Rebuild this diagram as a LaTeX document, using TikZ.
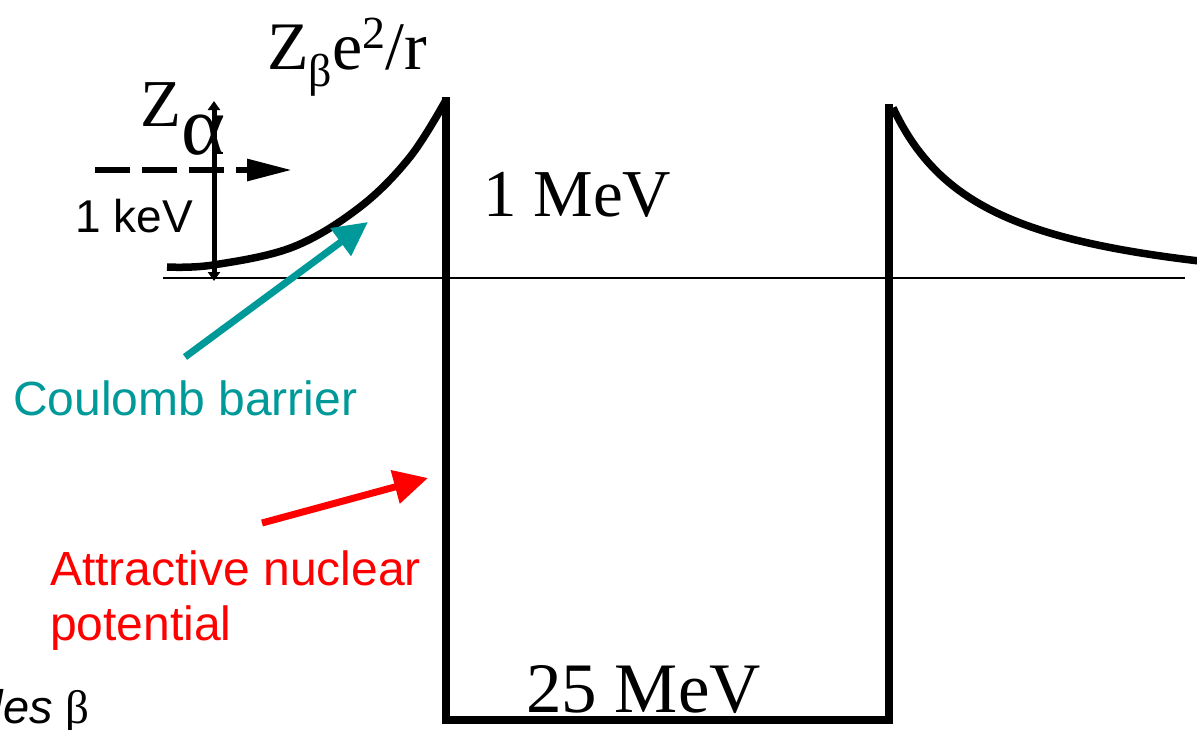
\documentclass[tikz,border=0pt]{standalone}
\usepackage{fontspec}
\setmainfont{Liberation Serif}
\newfontfamily\arialf{Liberation Sans}
\usetikzlibrary{arrows.meta}
\definecolor{teal2}{RGB}{0,153,153}
\definecolor{red2}{RGB}{255,0,0}
\tikzset{
  thick8/.style={line width=8pt, line join=miter},
  bigarrow/.style={line width=7pt, -{Triangle[length=34pt,width=33pt]}},
  lbl/.style={inner sep=0pt, anchor=base west},
  sanslbl/.style={lbl, font=\arialf\fontsize{48}{55}\selectfont},
}
\begin{document}
\begin{tikzpicture}[x=1pt,y=-1pt]
\useasboundingbox (0,0) rectangle (1197,729);
% axis
\coordinate (axL) at (163,278);
\coordinate (axR) at (1185,278);
\draw[line width=2.5pt] (axL) -- (axR);
% well
\coordinate (wTL) at (446,97);
\coordinate (wBL) at (446,720);
\coordinate (wBR) at (889,720);
\coordinate (wTR) at (889,104);
\draw[thick8] (wTL) -- (wBL) -- (wBR) -- (wTR);
% coulomb curves
\draw[line width=7.5pt] plot[smooth, tension=0.6] coordinates {(167,267) (213,265) (293,247) (360,207) (410,157) (446,100)};
\draw[line width=7.5pt] plot[domain=0.94:4.03, samples=80] ({799+100*\x},{308-188.16/\x});
% vertical arrow
\coordinate (vB) at (214,281);
\coordinate (vT) at (214,101);
\draw[line width=5pt, {Triangle[length=9pt,width=12pt]}-{Triangle[length=9pt,width=12pt]}] (vB) -- (vT);
% dashed arrow
\coordinate (dS) at (95,170);
\coordinate (dE) at (292,170);
\draw[line width=6pt, dash pattern=on 35pt off 12pt, -{Triangle[length=45pt,width=21pt]}] (dS) -- (dE);
% labels
\node[lbl, font=\fontsize{68}{72}\selectfont] (zb) at (267,69) {Z\raisebox{-17pt}{\fontsize{46}{50}\selectfont β}e\raisebox{21pt}{\fontsize{46}{50}\selectfont 2}/r};
\node[lbl, font=\fontsize{67}{70}\selectfont] (za) at (140,126) {Z\raisebox{-28pt}{\fontsize{84}{88}\selectfont α}};
\node[lbl, font=\arialf\fontsize{46}{52}\selectfont] (kev) at (75,232) {1 keV};
\node[lbl, font=\fontsize{67}{72}\selectfont] (mev1) at (483,216) {1 MeV};
\node[lbl, font=\fontsize{71}{76}\selectfont] (mev25) at (526,712) {25 MeV};
\node[sanslbl, text=teal2] (cb) at (13,415) {Coulomb barrier};
\node[sanslbl, text=red2] (an1) at (50,585) {Attractive nuclear};
\node[sanslbl, text=red2] (an2) at (50,640) {potential};
\node[inner sep=0pt, anchor=base east, font=\arialf\itshape\fontsize{47}{55}\selectfont] (les) at (90,723) {les \normalfont\fontsize{47}{55}\selectfont β};
% pointer arrows
\coordinate (tS) at (185,357);
\coordinate (tE) at (368,222);
\draw[bigarrow, teal2] (tS) -- (tE);
\coordinate (rS) at (262,523);
\coordinate (rE) at (428,478);
\draw[bigarrow, red2] (rS) -- (rE);
\end{tikzpicture}
\end{document}
